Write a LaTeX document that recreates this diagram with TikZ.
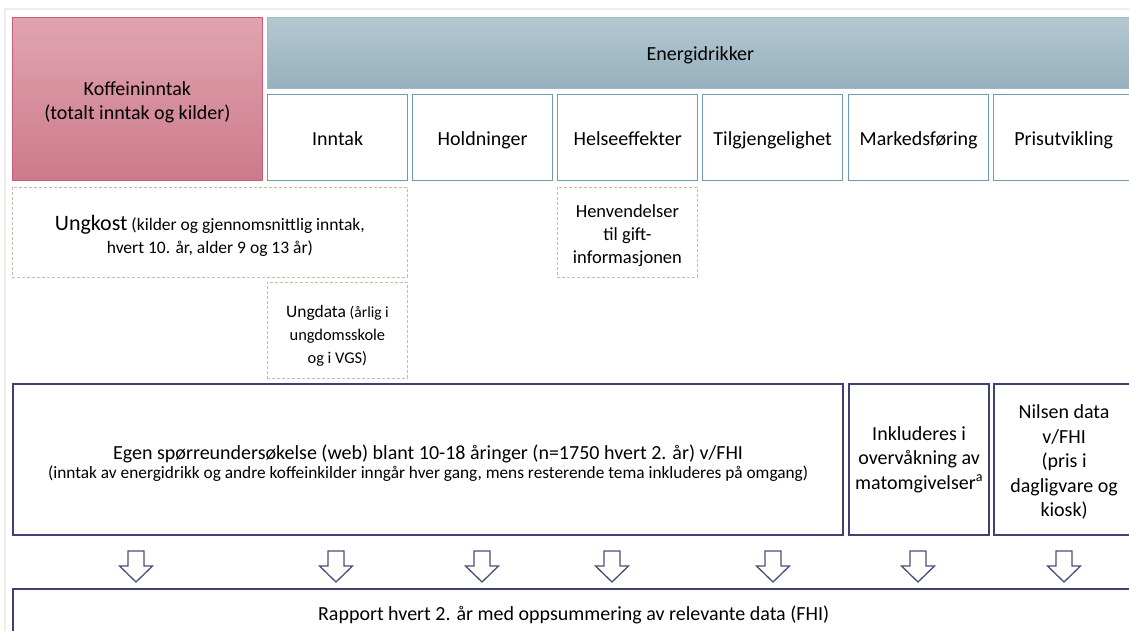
\documentclass[tikz,border=0pt]{standalone}
\usepackage{fontspec}
\setmainfont{Carlito}
\definecolor{pinktop}{HTML}{E0A4AF}
\definecolor{pinkbot}{HTML}{CC7A8C}
\definecolor{pinkborder}{HTML}{C95C78}
\definecolor{bluetop}{HTML}{B4C8D1}
\definecolor{bluebot}{HTML}{95B0BD}
\definecolor{blueborder}{HTML}{9DB8C4}
\definecolor{tealborder}{HTML}{6C9DAC}
\definecolor{tanborder}{HTML}{C9BBA8}
\definecolor{navy}{HTML}{3E4272}
\definecolor{arrowcol}{HTML}{4A4E78}
\definecolor{framegray}{HTML}{EDEDED}
\newcommand{\mainsize}{\fontsize{20}{24.5}\selectfont}
\newcommand{\smallsize}{\fontsize{17.5}{23}\selectfont}
\begin{document}
\begin{tikzpicture}[x=1pt,y=-1pt,
  box/.style={inner sep=0pt, align=center, anchor=north west, font=\mainsize,
    execute at begin node={\rule{0pt}{21pt}}, execute at end node={\rule[-6pt]{0pt}{0pt}}},
  lower/.style={execute at begin node={\rule{0pt}{#1}}},
  pinkbox/.style={box, draw=pinkborder, line width=0.8pt, top color=pinktop, bottom color=pinkbot},
  headbox/.style={box, draw=blueborder, line width=0.8pt, top color=bluetop, bottom color=bluebot},
  subbox/.style={box, draw=tealborder, line width=1.3pt, fill=white, minimum width=140pt, minimum height=86pt},
  srcbox/.style={box, draw=tanborder, line width=0.8pt, dash pattern=on 3pt off 2pt},
  navybox/.style={box, draw=navy, line width=2.2pt},
  blockarrow/.style={draw=arrowcol, line width=1.3pt, fill=white, line join=miter},
  pics/downarrow/.style={code={
    \draw[blockarrow] (-8,0) -- (8,0) -- (8,15) -- (16.5,15) -- (0,31) -- (-16.5,15) -- (-8,15) -- cycle;
  }}
]
\useasboundingbox (0,0) rectangle (1129,630);
\clip (0,0) rectangle (1129,630);
\fill[white] (0,0) rectangle (1129,630);
\draw[framegray, line width=1.8pt] (5,640) -- (5,9) -- (1140,9);

% top row
\node[pinkbox, lower=48pt, minimum width=250pt, minimum height=163pt] (koffein) at (12,17)
  {Koffeininntak\\(totalt inntak og kilder)};
\node[headbox, minimum width=866pt, minimum height=71pt] (energi) at (267,17) {Energidrikker};

\node[subbox] (inntak) at (267,94) {Inntak};
\node[subbox] (holdn) at (412,94) {Holdninger};
\node[subbox] (helse) at (557,94) {Helseeffekter};
\node[subbox] (tilgj) at (702,94) {Tilgjengelighet};
\node[subbox] (marked) at (848,94) {Markedsføring};
\node[subbox] (pris) at (993,94) {Prisutvikling};

% data sources
\node[srcbox, lower=48pt, minimum width=395pt, minimum height=90pt, font=\smallsize] (ungkost) at (12,187)
  {{\fontsize{22}{23}\selectfont Ungkost} (kilder og gjennomsnittlig inntak,\\hvert 10. år, alder 9 og 13 år)};
\node[srcbox, lower=69pt, minimum width=140pt, minimum height=90pt, font=\fontsize{18.5}{23}\selectfont] (henv) at (557,187)
  {Henvendelser\\til gift-\\informasjonen};
\node[srcbox, lower=73pt, minimum width=140pt, minimum height=96pt, font=\fontsize{16.4}{23}\selectfont] (ungdata) at (267,282)
  {{\fontsize{17.5}{23}\selectfont Ungdata} {\fontsize{15.5}{23}\selectfont (årlig i}\\ungdomsskole\\og i VGS)};

% surveys
\node[navybox, lower=44pt, minimum width=830pt, minimum height=151pt] (egen) at (12,383)
  {Egen spørreundersøkelse (web) blant 10-18 åringer (n=1750 hvert 2. år) v/FHI\\[-5pt]
   {\fontsize{17.3}{20}\selectfont (inntak av energidrikk og andre koffeinkilder inngår hver gang, mens resterende tema inkluderes på omgang)}};
\node[navybox, lower=65pt, minimum width=140pt, minimum height=151pt] (inkl) at (848,383)
  {Inkluderes i\\overvåkning av\\matomgivelser\textsuperscript{a}};
\node[navybox, lower=120pt, minimum width=140pt, minimum height=151pt] (nilsen) at (993,383)
  {Nilsen data\\v/FHI\\(pris i\\dagligvare og\\kiosk)};

% arrows
\foreach \ax in {136,336,482,612,773,918,1064}
  \pic at (\ax,551) {downarrow};

% report
\node[navybox, minimum width=1121pt, minimum height=48pt] (rapport) at (12,588)
  {Rapport hvert 2. år med oppsummering av relevante data (FHI)};
\end{tikzpicture}
\end{document}
